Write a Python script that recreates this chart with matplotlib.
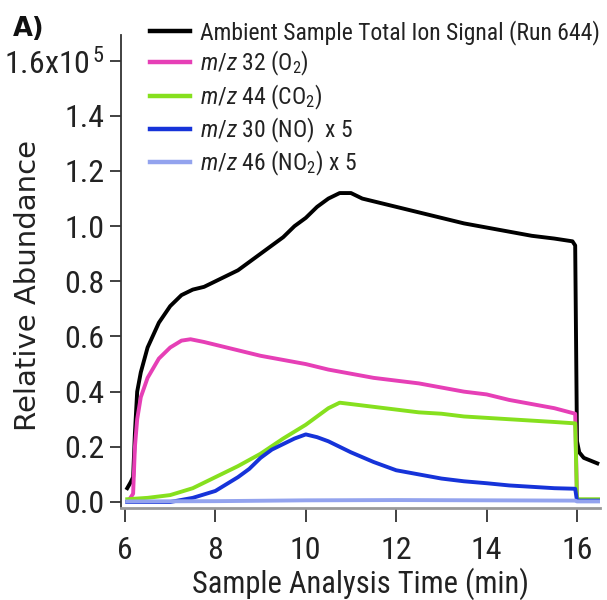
import matplotlib
matplotlib.use("Agg")
import matplotlib.pyplot as plt
from matplotlib.ticker import FixedLocator, FixedFormatter

NARROW = "Roboto Condensed"
plt.rcParams["font.family"] = [NARROW, "DejaVu Sans"]
plt.rcParams["mathtext.fontset"] = "custom"
plt.rcParams["mathtext.rm"] = NARROW
plt.rcParams["mathtext.it"] = NARROW + ":italic"

# ---------- data (values x 1e5, time in min) ----------
t_tic = [6.05, 6.12, 6.18, 6.22, 6.27, 6.35, 6.5, 6.75, 7.0, 7.25, 7.5, 7.75, 8.0,
         8.25, 8.5, 8.75, 9.0, 9.25, 9.5, 9.75, 10.0, 10.25, 10.5, 10.75, 11.0,
         11.25, 11.5, 11.75, 12.0, 12.5, 13.0, 13.5, 14.0, 14.5, 15.0, 15.5, 15.9,
         15.96, 16.0, 16.05, 16.15, 16.3, 16.45]
tic = [0.05, 0.07, 0.09, 0.25, 0.40, 0.47, 0.56, 0.65, 0.71, 0.75, 0.77, 0.78, 0.80,
       0.82, 0.84, 0.87, 0.90, 0.93, 0.96, 1.00, 1.03, 1.07, 1.10, 1.12, 1.12,
       1.10, 1.09, 1.08, 1.07, 1.05, 1.03, 1.01, 0.995, 0.98, 0.965, 0.955, 0.945,
       0.93, 0.22, 0.18, 0.16, 0.15, 0.14]

t_o2 = [6.1, 6.18, 6.22, 6.27, 6.35, 6.5, 6.75, 7.0, 7.25, 7.45, 7.75, 8.0, 8.5,
        9.0, 9.5, 10.0, 10.5, 11.0, 11.5, 12.0, 12.5, 13.0, 13.5, 14.0, 14.5,
        15.0, 15.5, 15.96, 16.0]
o2 = [0.01, 0.03, 0.20, 0.30, 0.38, 0.45, 0.52, 0.56, 0.585, 0.59, 0.58, 0.57, 0.55,
      0.53, 0.515, 0.50, 0.48, 0.465, 0.45, 0.44, 0.43, 0.415, 0.40, 0.39, 0.37,
      0.355, 0.34, 0.32, 0.01]

t_co2 = [6.05, 6.5, 7.0, 7.5, 8.0, 8.5, 9.0, 9.5, 10.0, 10.25, 10.5, 10.75, 11.0,
         11.5, 12.0, 12.5, 13.0, 13.5, 14.0, 14.5, 15.0, 15.5, 15.96, 16.0, 16.5]
co2 = [0.01, 0.015, 0.025, 0.05, 0.09, 0.13, 0.175, 0.23, 0.28, 0.31, 0.34, 0.36, 0.355,
       0.345, 0.335, 0.325, 0.32, 0.31, 0.305, 0.30, 0.295, 0.29, 0.285, 0.01, 0.01]

t_no = [6.05, 7.0, 7.5, 8.0, 8.5, 8.75, 9.0, 9.25, 9.5, 9.75, 10.0, 10.25, 10.5,
        10.75, 11.0, 11.5, 12.0, 12.5, 13.0, 13.5, 14.0, 14.5, 15.0, 15.5, 15.96,
        16.0, 16.5]
no = [0.0, 0.0, 0.015, 0.04, 0.09, 0.12, 0.16, 0.19, 0.21, 0.23, 0.245, 0.235, 0.22,
      0.20, 0.18, 0.145, 0.115, 0.10, 0.085, 0.075, 0.068, 0.06, 0.055, 0.05, 0.048,
      0.005, 0.005]

t_no2 = [6.05, 8.0, 10.0, 12.0, 14.0, 15.96, 16.0, 16.5]
no2 = [0.002, 0.003, 0.006, 0.007, 0.006, 0.005, 0.002, 0.002]

series = [
    (t_tic, tic, "black", "Ambient Sample Total Ion Signal (Run 644)"),
    (t_o2, o2, "#e63fb6", r"$m/z$ 32 (O$_2$)"),
    (t_co2, co2, "#86e01e", r"$m/z$ 44 (CO$_2$)"),
    (t_no, no, "#1633d9", r"$m/z$ 30 (NO)  x 5"),
    (t_no2, no2, "#93a3ee", r"$m/z$ 46 (NO$_2$) x 5"),
]

yticks = [0.0, 0.2, 0.4, 0.6, 0.8, 1.0, 1.2, 1.4, 1.6]
ylabels = ["0.0", "0.2", "0.4", "0.6", "0.8", "1.0", "1.2", "1.4", r"1.6x10$^{\,5}$"]
xticks = [6, 8, 10, 12, 14, 16]

W, H = 607, 600
fig = plt.figure(figsize=(W / 100, H / 100), dpi=100)
ax = fig.add_axes([121 / W, 1 - 508 / H, (600 - 121) / W, (508 - 35) / H])

for t, v, c, lab in series:
    ax.plot(t, v, color=c, lw=2.8, label=lab, solid_joinstyle="round")

ax.set_xlim(5.912, 16.509)
ax.set_ylim(-0.0218, 1.693)

for s in ("top", "right"):
    ax.spines[s].set_visible(False)
ax.spines["left"].set_color("#333333")
ax.spines["left"].set_linewidth(1.3)
ax.spines["bottom"].set_color("#999999")
ax.spines["bottom"].set_linewidth(2.0)

ax.yaxis.set_major_locator(FixedLocator(yticks))
ax.yaxis.set_major_formatter(FixedFormatter(ylabels))
ax.set_xticks(xticks)
ax.tick_params(axis="y", direction="out", length=8, width=1.3, color="#333333",
               pad=4, labelsize=23, labelcolor="#222222")
ax.tick_params(axis="x", direction="out", length=10, width=1.3, color="#333333",
               pad=10, labelsize=23, labelcolor="#222222")

ax.set_xlabel("Sample Analysis Time (min)", fontsize=22, color="#222222")
ax.xaxis.label.set_va("baseline")
ax.xaxis.set_label_coords(0.5, -(593 - 508) / 473)
ax.set_ylabel("Relative Abundance", fontsize=21, color="#222222",
              family=["DejaVu Sans"])
ax.yaxis.set_label_coords(-0.165, 0.47)

leg = ax.legend(loc="upper left", bbox_to_anchor=(150 / W, 1 - 20 / H),
                bbox_transform=fig.transFigure, frameon=False, fontsize=17,
                handlelength=1.7, handletextpad=0.42, labelspacing=0.18,
                borderpad=0, borderaxespad=0)
for line in leg.get_lines():
    line.set_linewidth(3.2)
for txt in leg.get_texts():
    txt.set_color("#222222")

fig.text(13 / W, 1 - 36 / H, "A)", fontsize=18.5, fontweight="bold",
         family=["DejaVu Sans"], color="#111111")

fig.savefig("out.png", dpi=100)
